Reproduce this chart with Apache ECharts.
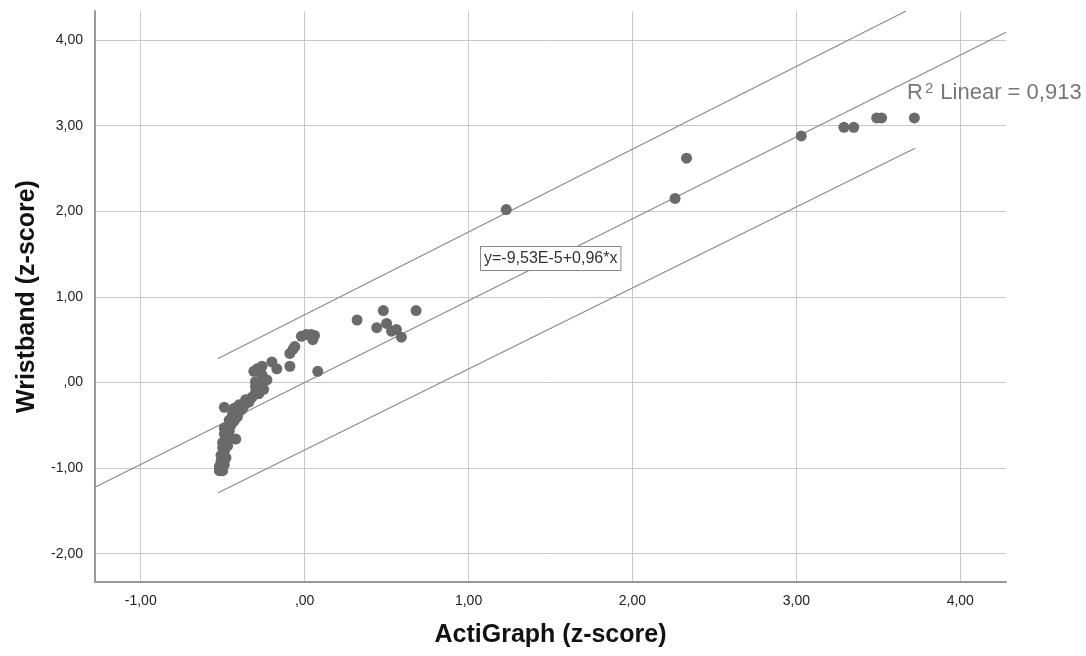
<!DOCTYPE html>
<html>
<head>
<meta charset="utf-8">
<script src="https://cdn.jsdelivr.net/npm/echarts@6/dist/echarts.min.js"></script>
<style>
html,body{margin:0;padding:0;background:#fff;}
#chart{width:1086px;height:656px;}
</style>
</head>
<body>
<div id="chart"></div>
<script>
// Observed points (ActiGraph z-score, Wristband z-score)
const actigraph = [
  -0.52,-0.50,-0.52,-0.49,-0.51,-0.48,-0.51,-0.49,-0.50,-0.47,-0.50,-0.48,-0.45,-0.42,-0.49,-0.46,-0.49,-0.45,-0.43,-0.46,
  -0.41,-0.44,-0.40,-0.43,-0.38,-0.49,-0.37,-0.40,-0.34,-0.36,-0.32,-0.30,-0.28,-0.25,-0.30,-0.26,-0.30,-0.23,-0.26,-0.31,
  -0.29,-0.26,-0.20,-0.17,-0.09,-0.09,-0.07,-0.06,-0.02,0.01,0.04,0.05,0.06,0.08,
  0.32,0.48,0.68,0.44,0.50,0.53,0.56,0.59,
  1.23,2.26,2.33,3.03,3.29,3.35,3.49,3.52,3.72
];
const wristband = [
  -1.03,-1.03,-0.98,-0.96,-0.92,-0.88,-0.85,-0.81,-0.76,-0.74,-0.70,-0.66,-0.65,-0.66,-0.60,-0.57,-0.53,-0.50,-0.45,-0.44,
  -0.40,-0.37,-0.34,-0.30,-0.31,-0.29,-0.27,-0.26,-0.23,-0.20,-0.17,-0.12,-0.13,-0.08,-0.05,-0.01,0.01,0.03,0.09,0.13,
  0.16,0.19,0.24,0.16,0.19,0.34,0.39,0.42,0.54,0.56,0.56,0.50,0.55,0.13,
  0.73,0.84,0.84,0.64,0.69,0.60,0.62,0.53,
  2.02,2.15,2.62,2.88,2.98,2.98,3.09,3.09,3.09
];
// Fit line and prediction-interval lines (end points)
const fitX = [-1.279, 4.279];
const fitY = [-1.223, 4.090];
const upperX = [-0.528, 3.669];
const upperY = [0.280, 4.339];
const lowerX = [-0.528, 3.724];
const lowerY = [-1.288, 2.737];
const xTicks = [-1, 0, 1, 2, 3, 4];
const yTicks = [-2, -1, 0, 1, 2, 3, 4];
const xTitle = 'ActiGraph (z-score)';
const yTitle = 'Wristband (z-score)';
const fitLabel = 'y=-9,53E-5+0,96*x';
const r2Value = '0,913';

function fmt(v) {
  let s = Math.abs(v).toFixed(2).replace('.', ',');
  if (Math.abs(v) < 1) s = s.replace(/^0/, '');
  return (v < 0 ? '-' : '') + s;
}
const zip = (a, b) => a.map((v, i) => [v, b[i]]);

const FONT = '"Liberation Sans", Arial, sans-serif';
const chart = echarts.init(document.getElementById('chart'));
const lineStyle = { color: '#8a8a8a', width: 1.2 };
chart.setOption({
  animation: false,
  backgroundColor: '#ffffff',
  grid: { left: 95, right: 80, top: 11, bottom: 74, containLabel: false },
  xAxis: {
    type: 'value', min: -1.279, max: 4.279,
    name: xTitle, nameLocation: 'middle', nameGap: 41,
    nameTextStyle: { fontFamily: FONT, fontWeight: 'bold', fontSize: 25, color: '#111' },
    axisLine: { show: true, onZero: false, lineStyle: { color: '#9a9a9a', width: 2 } },
    axisTick: { show: false, customValues: xTicks },
    axisLabel: { customValues: xTicks, formatter: fmt, fontFamily: FONT, fontSize: 14, color: '#222', margin: 12 },
    splitLine: { show: true, lineStyle: { color: '#c8c8c8', width: 1 } }
  },
  yAxis: {
    type: 'value', min: -2.330, max: 4.339,
    name: yTitle, nameLocation: 'middle', nameGap: 55,
    nameTextStyle: { fontFamily: FONT, fontWeight: 'bold', fontSize: 25, color: '#111' },
    axisLine: { show: true, onZero: false, lineStyle: { color: '#9a9a9a', width: 2 } },
    axisTick: { show: false, customValues: yTicks },
    axisLabel: { customValues: yTicks, formatter: fmt, fontFamily: FONT, fontSize: 14, color: '#222', margin: 12 },
    splitLine: { show: true, lineStyle: { color: '#c8c8c8', width: 1 } }
  },
  series: [
    { type: 'line', data: zip(fitX, fitY), showSymbol: false, lineStyle, z: 2, silent: true },
    { type: 'line', data: zip(upperX, upperY), showSymbol: false, lineStyle, z: 2, silent: true },
    { type: 'line', data: zip(lowerX, lowerY), showSymbol: false, lineStyle, z: 2, silent: true },
    { type: 'scatter', data: zip(actigraph, wristband), symbolSize: 11,
      itemStyle: { color: '#6a6a6a', opacity: 1 }, z: 3 }
  ],
  graphic: [
    {
      type: 'text', left: 907, top: 81, z: 10,
      style: {
        text: '{a|R}{s|2}{a| Linear = ' + r2Value + '}',
        rich: {
          a: { fontFamily: FONT, fontSize: 22, fill: '#777', color: '#777' },
          s: { fontFamily: FONT, fontSize: 15, fill: '#777', color: '#777', verticalAlign: 'top', padding: [0, 1, 8, 2] }
        }
      }
    },
    {
      type: 'text', left: 480, top: 246, z: 10,
      style: {
        text: fitLabel, fontFamily: FONT, fontSize: 16, fill: '#333',
        backgroundColor: '#ffffff', borderColor: '#8a8a8a', borderWidth: 1, padding: [4, 3, 3, 3]
      }
    }
  ]
});
</script>
</body>
</html>
